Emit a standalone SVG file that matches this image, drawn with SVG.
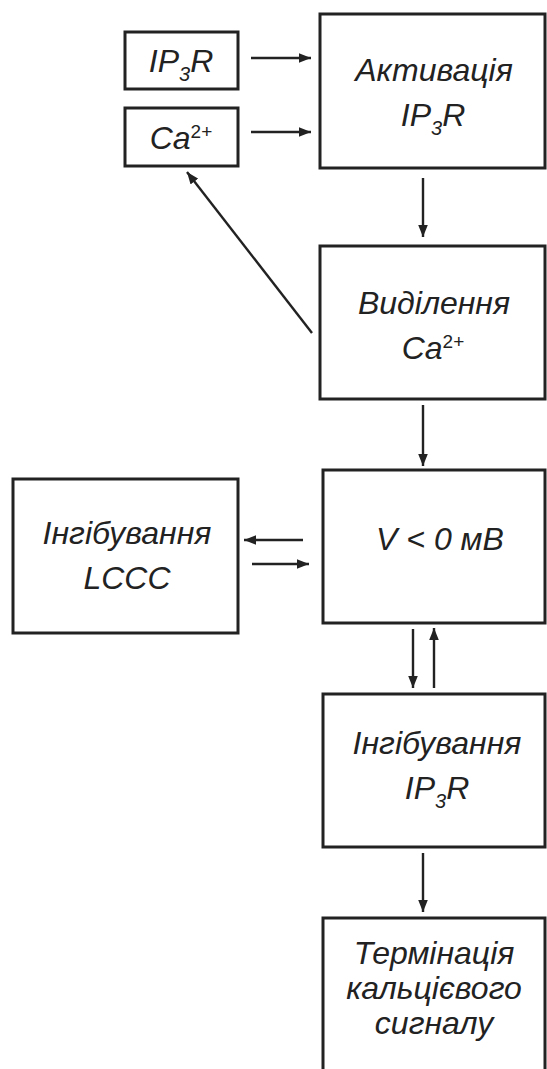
<svg xmlns="http://www.w3.org/2000/svg" width="547" height="1069" viewBox="0 0 547 1069">
<style>
.box{fill:#fff;stroke:#222;stroke-width:3}
.t{font-family:"Liberation Sans",Arial,sans-serif;font-style:italic;font-size:32px;fill:#222;text-anchor:middle}
.s{font-size:20px}
.p{font-size:19px;font-style:normal}
.c line{stroke:#222;stroke-width:2.4}
</style>
<defs>
<marker id="ah" viewBox="0 0 10 8" refX="10" refY="4" markerWidth="5" markerHeight="4" orient="auto" markerUnits="strokeWidth">
<path d="M0,0 L10,4 L0,8 z" fill="#222"/>
</marker>
</defs>
<rect x="0" y="0" width="547" height="1069" fill="#fff"/>
<g id="n-ip3r">
<rect class="box" x="125" y="32" width="113" height="57"/>
<text class="t" x="181" y="72">IP<tspan class="s" dy="9">3</tspan><tspan dy="-9">R</tspan></text>
</g>
<g id="n-ca">
<rect class="box" x="125" y="108" width="113" height="58"/>
<text class="t" x="181" y="149">Ca<tspan class="p" dy="-11">2+</tspan></text>
</g>
<g id="n-activation">
<rect class="box" x="320" y="14" width="225" height="154"/>
<text class="t" x="434" y="81">Активація</text>
<text class="t" x="433" y="126">IP<tspan class="s" dy="9">3</tspan><tspan dy="-9">R</tspan></text>
</g>
<g id="n-release">
<rect class="box" x="320" y="246" width="225" height="153"/>
<text class="t" x="434" y="314">Виділення</text>
<text class="t" x="433" y="359">Ca<tspan class="p" dy="-11">2+</tspan></text>
</g>
<g id="n-v">
<rect class="box" x="323" y="470" width="222" height="153"/>
<text class="t" x="440" y="550">V &lt; 0 мВ</text>
</g>
<g id="n-lccc">
<rect class="box" x="13" y="479" width="225" height="154"/>
<text class="t" x="127" y="544">Інгібування</text>
<text class="t" x="127" y="589">LCCC</text>
</g>
<g id="n-inhib-ip3r">
<rect class="box" x="323" y="694" width="222" height="153"/>
<text class="t" x="437" y="754">Інгібування</text>
<text class="t" x="437" y="799">IP<tspan class="s" dy="9">3</tspan><tspan dy="-9">R</tspan></text>
</g>
<g id="n-termination">
<rect class="box" x="323" y="918" width="222" height="170"/>
<text class="t" x="434" y="964">Термінація</text>
<text class="t" x="434" y="999">кальцієвого</text>
<text class="t" x="434" y="1034">сигналу</text>
</g>
<g id="connectors" class="c">
<line x1="251" y1="58" x2="311" y2="58" marker-end="url(#ah)"/>
<line x1="251" y1="132" x2="311" y2="132" marker-end="url(#ah)"/>
<line x1="423" y1="178" x2="423" y2="237" marker-end="url(#ah)"/>
<line x1="312" y1="333" x2="187" y2="172" marker-end="url(#ah)"/>
<line x1="423" y1="405" x2="423" y2="466" marker-end="url(#ah)"/>
<line x1="303" y1="540" x2="244" y2="540" marker-end="url(#ah)"/>
<line x1="252" y1="564" x2="309" y2="564" marker-end="url(#ah)"/>
<line x1="413" y1="629" x2="413" y2="688" marker-end="url(#ah)"/>
<line x1="434" y1="688" x2="434" y2="628" marker-end="url(#ah)"/>
<line x1="423" y1="853" x2="423" y2="912" marker-end="url(#ah)"/>
</g>
</svg>
